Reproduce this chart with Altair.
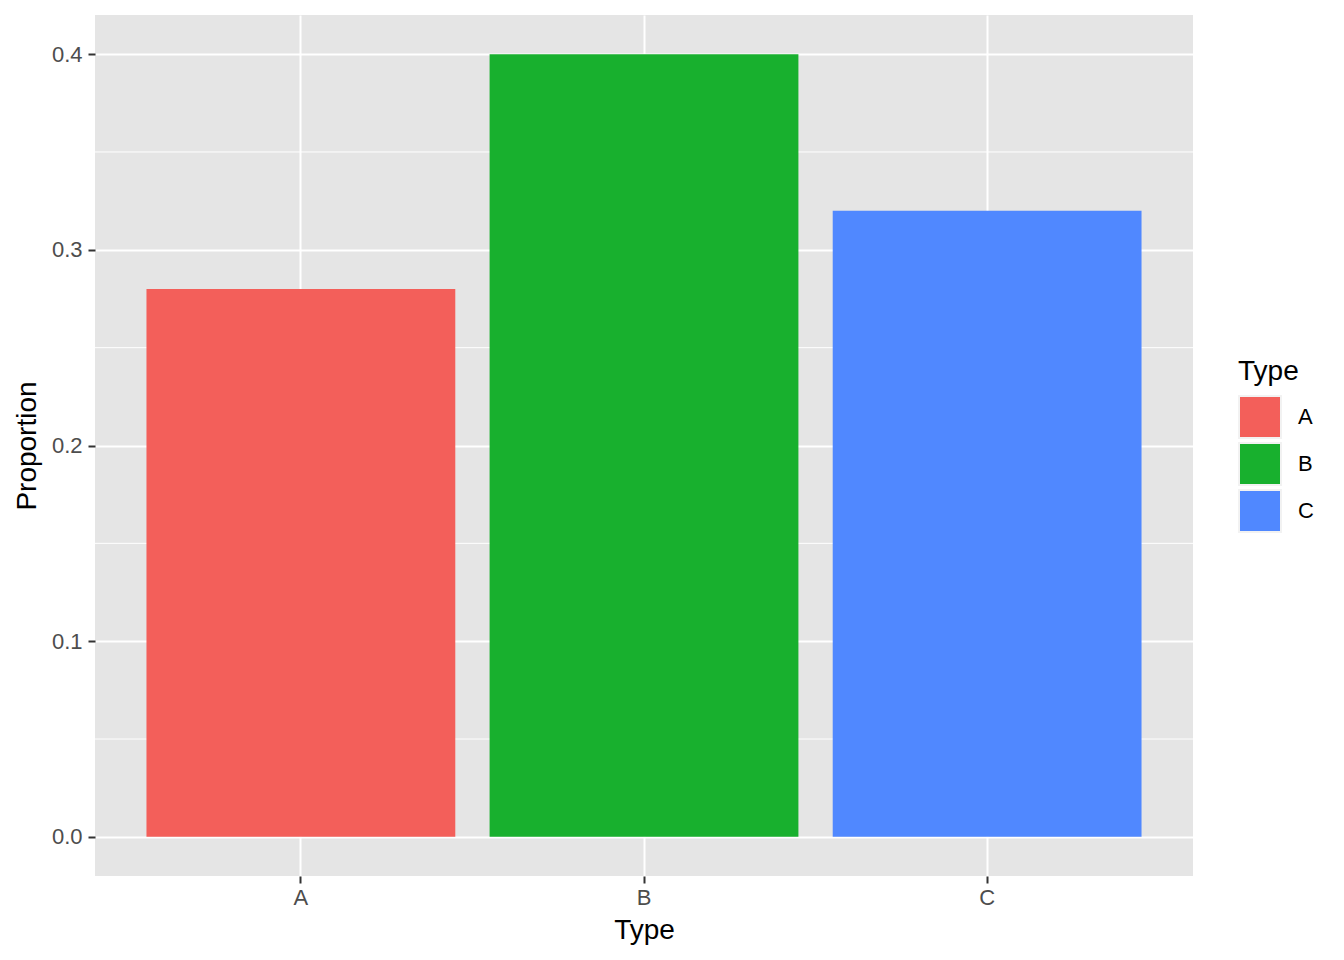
import altair as alt
import pandas as pd

types = ["A", "B", "C"]
proportions = [0.28, 0.40, 0.32]
colors = ["#F35F5A", "#18B02E", "#5088FF"]
y_major = [0.0, 0.1, 0.2, 0.3, 0.4]
y_minor = [0.05, 0.15, 0.25, 0.35]

df = pd.DataFrame({"Type": types, "Proportion": proportions})
minor_df = pd.DataFrame({"v": y_minor})

FONT = "Liberation Sans"
yscale = alt.Scale(domain=[-0.02, 0.42], nice=False, zero=False)

minor = alt.Chart(minor_df).mark_rule(color="white", strokeWidth=1).encode(
    y=alt.Y("v:Q", scale=yscale)
)

bars = alt.Chart(df).mark_bar().encode(
    x=alt.X(
        "Type:N",
        scale=alt.Scale(paddingInner=0.1, paddingOuter=0.15),
        axis=alt.Axis(
            title="Type", labelAngle=0, grid=True, gridColor="white", gridWidth=2,
            bandPosition=0.5, domain=False, tickColor="#333333", tickWidth=2, tickSize=7,
            labelFontSize=22, labelColor="#4D4D4D", labelFont=FONT, labelPadding=4,
            titleFontSize=28, titleFont=FONT, titleFontWeight="normal", titleColor="black",
            titlePadding=8,
        ),
    ),
    y=alt.Y(
        "Proportion:Q",
        scale=yscale,
        axis=alt.Axis(
            title="Proportion", values=y_major, format=".1f", grid=True, gridColor="white",
            gridWidth=2, domain=False, tickColor="#333333", tickWidth=2, tickSize=7,
            labelFontSize=22, labelColor="#4D4D4D", labelFont=FONT, labelPadding=6,
            titleFontSize=28, titleFont=FONT, titleFontWeight="normal", titleColor="black",
            titlePadding=10,
        ),
    ),
    color=alt.Color(
        "Type:N",
        scale=alt.Scale(domain=types, range=colors),
        legend=alt.Legend(
            title="Type", orient="none", legendX=1143, legendY=343,
            titleFontSize=28, titleFont=FONT, titleFontWeight="normal", titleColor="black",
            titlePadding=9, labelFontSize=22, labelFont=FONT, labelColor="black",
            labelOffset=16, symbolType="square", symbolSize=1764,
            symbolStrokeColor="#F2F2F2", symbolStrokeWidth=2, symbolOpacity=1,
            rowPadding=-4,
        ),
    ),
)

chart = (
    alt.layer(minor, bars)
    .properties(
        width=1098, height=861,
        autosize=alt.AutoSizeParams(type="none"),
        padding={"left": 87, "top": 7, "right": 143, "bottom": 76},
    )
    .configure_view(fill="#E5E5E5", strokeWidth=0, stroke="transparent")
)

chart.save("out.html", embed_options={"renderer": "svg", "actions": False})
